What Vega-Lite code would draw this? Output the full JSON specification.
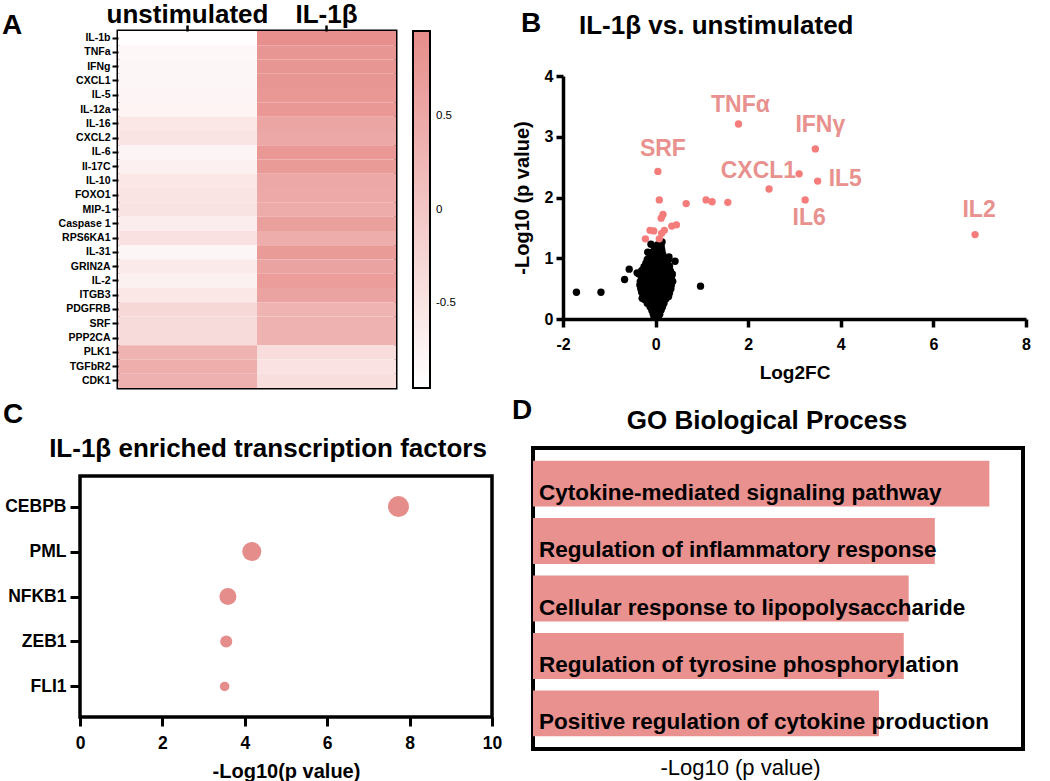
{
  "$schema": "https://vega.github.io/schema/vega-lite/v6.json",
  "background": "white",
  "padding": {"left": 0, "top": 0, "right": 0, "bottom": 0},
  "spacing": 6,
  "config": {
    "font": "Liberation Sans",
    "view": {"stroke": "black", "strokeWidth": 3},
    "axis": {"labelFont": "Liberation Sans", "labelFontWeight": "bold", "labelColor": "black", "titleFont": "Liberation Sans", "titleFontWeight": "bold", "titleColor": "black", "tickColor": "black", "domainColor": "black", "grid": false, "labelFlush": false},
    "title": {"font": "Liberation Sans", "fontWeight": "bold", "color": "black", "fontSize": 26},
    "legend": {"labelFont": "Liberation Sans", "labelColor": "black"}
  },
  "datasets": {
    "heat": [
      {"gene": "IL-1b", "cond": "unstimulated", "z": -0.92}, {"gene": "IL-1b", "cond": "IL-1β", "z": 0.92},
      {"gene": "TNFa", "cond": "unstimulated", "z": -0.82}, {"gene": "TNFa", "cond": "IL-1β", "z": 0.8},
      {"gene": "IFNg", "cond": "unstimulated", "z": -0.8}, {"gene": "IFNg", "cond": "IL-1β", "z": 0.8},
      {"gene": "CXCL1", "cond": "unstimulated", "z": -0.8}, {"gene": "CXCL1", "cond": "IL-1β", "z": 0.8},
      {"gene": "IL-5", "cond": "unstimulated", "z": -0.78}, {"gene": "IL-5", "cond": "IL-1β", "z": 0.76},
      {"gene": "IL-12a", "cond": "unstimulated", "z": -0.76}, {"gene": "IL-12a", "cond": "IL-1β", "z": 0.76},
      {"gene": "IL-16", "cond": "unstimulated", "z": -0.55}, {"gene": "IL-16", "cond": "IL-1β", "z": 0.55},
      {"gene": "CXCL2", "cond": "unstimulated", "z": -0.5}, {"gene": "CXCL2", "cond": "IL-1β", "z": 0.5},
      {"gene": "IL-6", "cond": "unstimulated", "z": -0.78}, {"gene": "IL-6", "cond": "IL-1β", "z": 0.76},
      {"gene": "Il-17C", "cond": "unstimulated", "z": -0.7}, {"gene": "Il-17C", "cond": "IL-1β", "z": 0.72},
      {"gene": "IL-10", "cond": "unstimulated", "z": -0.55}, {"gene": "IL-10", "cond": "IL-1β", "z": 0.5},
      {"gene": "FOXO1", "cond": "unstimulated", "z": -0.5}, {"gene": "FOXO1", "cond": "IL-1β", "z": 0.48},
      {"gene": "MIP-1", "cond": "unstimulated", "z": -0.48}, {"gene": "MIP-1", "cond": "IL-1β", "z": 0.45},
      {"gene": "Caspase 1", "cond": "unstimulated", "z": -0.65}, {"gene": "Caspase 1", "cond": "IL-1β", "z": 0.62},
      {"gene": "RPS6KA1", "cond": "unstimulated", "z": -0.45}, {"gene": "RPS6KA1", "cond": "IL-1β", "z": 0.42},
      {"gene": "IL-31", "cond": "unstimulated", "z": -0.8}, {"gene": "IL-31", "cond": "IL-1β", "z": 0.72},
      {"gene": "GRIN2A", "cond": "unstimulated", "z": -0.6}, {"gene": "GRIN2A", "cond": "IL-1β", "z": 0.58},
      {"gene": "IL-2", "cond": "unstimulated", "z": -0.72}, {"gene": "IL-2", "cond": "IL-1β", "z": 0.68},
      {"gene": "ITGB3", "cond": "unstimulated", "z": -0.55}, {"gene": "ITGB3", "cond": "IL-1β", "z": 0.58},
      {"gene": "PDGFRB", "cond": "unstimulated", "z": -0.3}, {"gene": "PDGFRB", "cond": "IL-1β", "z": 0.3},
      {"gene": "SRF", "cond": "unstimulated", "z": -0.35}, {"gene": "SRF", "cond": "IL-1β", "z": 0.32},
      {"gene": "PPP2CA", "cond": "unstimulated", "z": -0.35}, {"gene": "PPP2CA", "cond": "IL-1β", "z": 0.32},
      {"gene": "PLK1", "cond": "unstimulated", "z": 0.32}, {"gene": "PLK1", "cond": "IL-1β", "z": -0.38},
      {"gene": "TGFbR2", "cond": "unstimulated", "z": 0.4}, {"gene": "TGFbR2", "cond": "IL-1β", "z": -0.47},
      {"gene": "CDK1", "cond": "unstimulated", "z": 0.35}, {"gene": "CDK1", "cond": "IL-1β", "z": -0.42}
    ],
    "volcano": [
      {"fc": -0.03, "p": 0.03, "grp": "ns"}, {"fc": 0.02, "p": 0.02, "grp": "ns"}, {"fc": 0.06, "p": 0.04, "grp": "ns"},
      {"fc": -0.05, "p": 0.08, "grp": "ns"}, {"fc": 0.0, "p": 0.09, "grp": "ns"}, {"fc": 0.05, "p": 0.07, "grp": "ns"}, {"fc": 0.09, "p": 0.08, "grp": "ns"},
      {"fc": -0.08, "p": 0.14, "grp": "ns"}, {"fc": -0.02, "p": 0.15, "grp": "ns"}, {"fc": 0.03, "p": 0.13, "grp": "ns"}, {"fc": 0.08, "p": 0.14, "grp": "ns"}, {"fc": 0.12, "p": 0.15, "grp": "ns"},
      {"fc": -0.12, "p": 0.2, "grp": "ns"}, {"fc": -0.06, "p": 0.21, "grp": "ns"}, {"fc": 0.0, "p": 0.19, "grp": "ns"}, {"fc": 0.05, "p": 0.2, "grp": "ns"}, {"fc": 0.1, "p": 0.21, "grp": "ns"}, {"fc": 0.15, "p": 0.2, "grp": "ns"},
      {"fc": -0.18, "p": 0.26, "grp": "ns"}, {"fc": -0.1, "p": 0.27, "grp": "ns"}, {"fc": -0.04, "p": 0.25, "grp": "ns"}, {"fc": 0.02, "p": 0.26, "grp": "ns"}, {"fc": 0.07, "p": 0.27, "grp": "ns"}, {"fc": 0.13, "p": 0.25, "grp": "ns"}, {"fc": 0.18, "p": 0.26, "grp": "ns"},
      {"fc": -0.24, "p": 0.32, "grp": "ns"}, {"fc": -0.15, "p": 0.33, "grp": "ns"}, {"fc": -0.08, "p": 0.31, "grp": "ns"}, {"fc": -0.01, "p": 0.32, "grp": "ns"}, {"fc": 0.05, "p": 0.33, "grp": "ns"}, {"fc": 0.11, "p": 0.31, "grp": "ns"}, {"fc": 0.17, "p": 0.32, "grp": "ns"}, {"fc": 0.22, "p": 0.33, "grp": "ns"},
      {"fc": -0.27, "p": 0.38, "grp": "ns"}, {"fc": -0.19, "p": 0.39, "grp": "ns"}, {"fc": -0.11, "p": 0.37, "grp": "ns"}, {"fc": -0.04, "p": 0.38, "grp": "ns"}, {"fc": 0.03, "p": 0.39, "grp": "ns"}, {"fc": 0.09, "p": 0.37, "grp": "ns"}, {"fc": 0.16, "p": 0.38, "grp": "ns"}, {"fc": 0.24, "p": 0.39, "grp": "ns"}, {"fc": 0.28, "p": 0.37, "grp": "ns"},
      {"fc": -0.3, "p": 0.44, "grp": "ns"}, {"fc": -0.22, "p": 0.45, "grp": "ns"}, {"fc": -0.13, "p": 0.43, "grp": "ns"}, {"fc": -0.06, "p": 0.44, "grp": "ns"}, {"fc": 0.01, "p": 0.45, "grp": "ns"}, {"fc": 0.08, "p": 0.43, "grp": "ns"}, {"fc": 0.15, "p": 0.44, "grp": "ns"}, {"fc": 0.22, "p": 0.45, "grp": "ns"}, {"fc": 0.3, "p": 0.43, "grp": "ns"},
      {"fc": -0.32, "p": 0.5, "grp": "ns"}, {"fc": -0.24, "p": 0.51, "grp": "ns"}, {"fc": -0.16, "p": 0.49, "grp": "ns"}, {"fc": -0.08, "p": 0.5, "grp": "ns"}, {"fc": -0.02, "p": 0.51, "grp": "ns"}, {"fc": 0.05, "p": 0.49, "grp": "ns"}, {"fc": 0.12, "p": 0.5, "grp": "ns"}, {"fc": 0.2, "p": 0.51, "grp": "ns"}, {"fc": 0.27, "p": 0.49, "grp": "ns"}, {"fc": 0.33, "p": 0.5, "grp": "ns"},
      {"fc": -0.34, "p": 0.56, "grp": "ns"}, {"fc": -0.26, "p": 0.57, "grp": "ns"}, {"fc": -0.18, "p": 0.55, "grp": "ns"}, {"fc": -0.1, "p": 0.56, "grp": "ns"}, {"fc": -0.03, "p": 0.57, "grp": "ns"}, {"fc": 0.04, "p": 0.55, "grp": "ns"}, {"fc": 0.11, "p": 0.56, "grp": "ns"}, {"fc": 0.19, "p": 0.57, "grp": "ns"}, {"fc": 0.26, "p": 0.55, "grp": "ns"}, {"fc": 0.34, "p": 0.56, "grp": "ns"},
      {"fc": -0.33, "p": 0.62, "grp": "ns"}, {"fc": -0.25, "p": 0.63, "grp": "ns"}, {"fc": -0.17, "p": 0.61, "grp": "ns"}, {"fc": -0.09, "p": 0.62, "grp": "ns"}, {"fc": -0.02, "p": 0.63, "grp": "ns"}, {"fc": 0.06, "p": 0.61, "grp": "ns"}, {"fc": 0.13, "p": 0.62, "grp": "ns"}, {"fc": 0.21, "p": 0.63, "grp": "ns"}, {"fc": 0.29, "p": 0.61, "grp": "ns"}, {"fc": 0.37, "p": 0.62, "grp": "ns"},
      {"fc": -0.3, "p": 0.68, "grp": "ns"}, {"fc": -0.22, "p": 0.69, "grp": "ns"}, {"fc": -0.14, "p": 0.67, "grp": "ns"}, {"fc": -0.06, "p": 0.68, "grp": "ns"}, {"fc": 0.01, "p": 0.69, "grp": "ns"}, {"fc": 0.08, "p": 0.67, "grp": "ns"}, {"fc": 0.16, "p": 0.68, "grp": "ns"}, {"fc": 0.24, "p": 0.69, "grp": "ns"}, {"fc": 0.33, "p": 0.67, "grp": "ns"},
      {"fc": -0.36, "p": 0.74, "grp": "ns"}, {"fc": -0.27, "p": 0.75, "grp": "ns"}, {"fc": -0.19, "p": 0.73, "grp": "ns"}, {"fc": -0.11, "p": 0.74, "grp": "ns"}, {"fc": -0.04, "p": 0.75, "grp": "ns"}, {"fc": 0.04, "p": 0.73, "grp": "ns"}, {"fc": 0.11, "p": 0.74, "grp": "ns"}, {"fc": 0.19, "p": 0.75, "grp": "ns"}, {"fc": 0.27, "p": 0.73, "grp": "ns"}, {"fc": 0.36, "p": 0.74, "grp": "ns"},
      {"fc": -0.3, "p": 0.8, "grp": "ns"}, {"fc": -0.2, "p": 0.81, "grp": "ns"}, {"fc": -0.12, "p": 0.79, "grp": "ns"}, {"fc": -0.05, "p": 0.8, "grp": "ns"}, {"fc": 0.02, "p": 0.81, "grp": "ns"}, {"fc": 0.09, "p": 0.79, "grp": "ns"}, {"fc": 0.17, "p": 0.8, "grp": "ns"}, {"fc": 0.25, "p": 0.81, "grp": "ns"}, {"fc": 0.32, "p": 0.79, "grp": "ns"},
      {"fc": -0.25, "p": 0.86, "grp": "ns"}, {"fc": -0.16, "p": 0.87, "grp": "ns"}, {"fc": -0.08, "p": 0.85, "grp": "ns"}, {"fc": -0.01, "p": 0.86, "grp": "ns"}, {"fc": 0.06, "p": 0.87, "grp": "ns"}, {"fc": 0.14, "p": 0.85, "grp": "ns"}, {"fc": 0.22, "p": 0.86, "grp": "ns"}, {"fc": 0.3, "p": 0.87, "grp": "ns"},
      {"fc": -0.21, "p": 0.92, "grp": "ns"}, {"fc": -0.12, "p": 0.93, "grp": "ns"}, {"fc": -0.05, "p": 0.91, "grp": "ns"}, {"fc": 0.02, "p": 0.92, "grp": "ns"}, {"fc": 0.09, "p": 0.93, "grp": "ns"}, {"fc": 0.17, "p": 0.91, "grp": "ns"}, {"fc": 0.25, "p": 0.92, "grp": "ns"},
      {"fc": -0.18, "p": 0.98, "grp": "ns"}, {"fc": -0.1, "p": 0.99, "grp": "ns"}, {"fc": -0.03, "p": 0.97, "grp": "ns"}, {"fc": 0.04, "p": 0.98, "grp": "ns"}, {"fc": 0.11, "p": 0.99, "grp": "ns"}, {"fc": 0.19, "p": 0.97, "grp": "ns"}, {"fc": 0.28, "p": 0.98, "grp": "ns"},
      {"fc": -0.12, "p": 1.04, "grp": "ns"}, {"fc": -0.05, "p": 1.05, "grp": "ns"}, {"fc": 0.02, "p": 1.03, "grp": "ns"}, {"fc": 0.09, "p": 1.04, "grp": "ns"}, {"fc": 0.16, "p": 1.05, "grp": "ns"},
      {"fc": -0.08, "p": 1.1, "grp": "ns"}, {"fc": 0.0, "p": 1.11, "grp": "ns"}, {"fc": 0.07, "p": 1.09, "grp": "ns"}, {"fc": 0.14, "p": 1.1, "grp": "ns"},
      {"fc": -0.02, "p": 1.16, "grp": "ns"}, {"fc": 0.06, "p": 1.17, "grp": "ns"}, {"fc": 0.13, "p": 1.15, "grp": "ns"},
      {"fc": 0.04, "p": 1.22, "grp": "ns"}, {"fc": 0.12, "p": 1.21, "grp": "ns"},
      {"fc": -1.71, "p": 0.44, "grp": "ns"}, {"fc": -1.18, "p": 0.44, "grp": "ns"}, {"fc": -0.67, "p": 0.65, "grp": "ns"}, {"fc": -0.57, "p": 0.82, "grp": "ns"},
      {"fc": 0.97, "p": 0.54, "grp": "ns"}, {"fc": 0.42, "p": 0.95, "grp": "ns"}, {"fc": 0.29, "p": 1.02, "grp": "ns"}, {"fc": -0.1, "p": 1.23, "grp": "ns"},
      {"fc": 0.14, "p": 1.27, "grp": "ns"}, {"fc": -0.17, "p": 1.1, "grp": "ns"}, {"fc": -0.4, "p": 0.76, "grp": "ns"}, {"fc": 0.35, "p": 0.71, "grp": "ns"},
      {"fc": 0.32, "p": 0.5, "grp": "ns"}, {"fc": -0.29, "p": 0.34, "grp": "ns"}, {"fc": 0.1, "p": 1.25, "grp": "ns"},
      {"fc": 1.79, "p": 3.21, "grp": "sig", "label": "TNFα"},
      {"fc": 3.45, "p": 2.8, "grp": "sig", "label": "IFNγ"},
      {"fc": 0.05, "p": 2.43, "grp": "sig", "label": "SRF"},
      {"fc": 3.1, "p": 2.39, "grp": "sig", "label": "CXCL1"},
      {"fc": 3.5, "p": 2.27, "grp": "sig", "label": "IL5"},
      {"fc": 2.45, "p": 2.14, "grp": "sig"},
      {"fc": 3.23, "p": 1.96, "grp": "sig", "label": "IL6"},
      {"fc": 0.08, "p": 1.96, "grp": "sig"}, {"fc": 0.66, "p": 1.9, "grp": "sig"}, {"fc": 1.09, "p": 1.96, "grp": "sig"},
      {"fc": 1.22, "p": 1.93, "grp": "sig"}, {"fc": 1.56, "p": 1.92, "grp": "sig"}, {"fc": 0.16, "p": 1.72, "grp": "sig"},
      {"fc": 0.12, "p": 1.66, "grp": "sig"}, {"fc": 0.35, "p": 1.53, "grp": "sig"}, {"fc": 0.45, "p": 1.55, "grp": "sig"},
      {"fc": -0.12, "p": 1.46, "grp": "sig"}, {"fc": -0.04, "p": 1.45, "grp": "sig"}, {"fc": 0.19, "p": 1.46, "grp": "sig"},
      {"fc": 0.13, "p": 1.41, "grp": "sig"}, {"fc": -0.22, "p": 1.32, "grp": "sig"}, {"fc": 0.08, "p": 1.32, "grp": "sig"},
      {"fc": 6.9, "p": 1.39, "grp": "sig", "label": "IL2"}
    ],
    "tf": [
      {"tf": "CEBPB", "logp": 7.73, "score": 14},
      {"tf": "PML", "logp": 4.17, "score": 11.5},
      {"tf": "NFKB1", "logp": 3.59, "score": 9.2},
      {"tf": "ZEB1", "logp": 3.55, "score": 4.6},
      {"tf": "FLI1", "logp": 3.51, "score": 2.9}
    ],
    "go": [
      {"term": "Cytokine-mediated signaling pathway", "logp": 13.97},
      {"term": "Regulation of inflammatory response", "logp": 12.3},
      {"term": "Cellular response to lipopolysaccharide", "logp": 11.5},
      {"term": "Regulation of tyrosine phosphorylation", "logp": 11.35},
      {"term": "Positive regulation of cytokine production", "logp": 10.59}
    ],
    "empty": []
  },
  "vconcat": [
    {
      "bounds": "flush",
      "spacing": 37,
      "title": {"text": "B", "fontSize": 28, "anchor": "start", "frame": "group", "dx": 441, "dy": 38, "offset": 0},
      "hconcat": [
        {"width": 1, "height": 1, "view": {"stroke": null}, "data": {"name": "empty"}, "mark": "point"},
        {
          "bounds": "flush",
          "spacing": 167,
          "hconcat": [
            {
              "width": 278,
              "height": 357,
              "title": {"text": "A", "fontSize": 28, "anchor": "start", "frame": "group", "dx": -116, "dy": 38, "offset": 0},
              "data": {"name": "heat"},
              "mark": "rect",
              "encoding": {
                "x": {"field": "cond", "type": "nominal", "sort": ["unstimulated", "IL-1β"], "scale": {"paddingInner": 0, "paddingOuter": 0},
                  "axis": {"orient": "top", "title": null, "labelAngle": 0, "labelFontSize": 26, "labelBaseline": "alphabetic", "labelPadding": 2.5, "tickSize": 6, "tickWidth": 2.5, "domain": false, "labelLimit": 300, "labelOverlap": false}},
                "y": {"field": "gene", "type": "nominal",
                  "sort": ["IL-1b", "TNFa", "IFNg", "CXCL1", "IL-5", "IL-12a", "IL-16", "CXCL2", "IL-6", "Il-17C", "IL-10", "FOXO1", "MIP-1", "Caspase 1", "RPS6KA1", "IL-31", "GRIN2A", "IL-2", "ITGB3", "PDGFRB", "SRF", "PPP2CA", "PLK1", "TGFbR2", "CDK1"],
                  "scale": {"paddingInner": 0, "paddingOuter": 0},
                  "axis": {"title": null, "labelFontSize": 10.5, "tickSize": 6, "tickWidth": 2, "labelPadding": 2, "domain": false}},
                "color": {"field": "z", "type": "quantitative", "scale": {"domain": [-0.95, 0.95], "range": ["#ffffff", "#e68d8a"], "interpolate": "rgb"},
                  "legend": {"title": null, "orient": "right", "offset": 17, "direction": "vertical", "gradientLength": 357, "gradientThickness": 17, "gradientStrokeColor": "black", "gradientStrokeWidth": 2, "labelFontSize": 11.5, "labelOffset": 6, "values": [-0.5, 0, 0.5], "padding": 0,
                    "labelExpr": "datum.value === 0 ? '0' : (datum.value < 0 ? '-' + format(-datum.value, '.1f') : format(datum.value, '.1f'))"}}
              }
            },
            {
              "width": 463,
              "height": 288,
              "view": {"stroke": null},
              "title": {"text": "IL-1β vs. unstimulated", "fontSize": 26, "anchor": "start", "frame": "group", "dx": 16, "dy": 8, "offset": 0},
              "data": {"name": "volcano"},
              "encoding": {
                "x": {"field": "fc", "type": "quantitative", "scale": {"domain": [-2, 8], "nice": false, "zero": false},
                  "axis": {"title": "Log2FC", "values": [-2, 0, 2, 4, 6, 8], "labelExpr": "datum.value < 0 ? '-' + format(-datum.value, 'd') : format(datum.value, 'd')", "labelFontSize": 16, "labelPadding": 9, "tickSize": 8, "tickWidth": 3.5, "domainWidth": 3.5, "titleFontSize": 19, "titlePadding": 11}},
                "y": {"field": "p", "type": "quantitative", "scale": {"domain": [0, 4], "nice": false, "range": [288, 45]},
                  "axis": {"title": "-Log10 (p value)", "values": [0, 1, 2, 3, 4], "labelFontSize": 16, "labelPadding": 3, "tickSize": 7, "tickWidth": 3.5, "domainWidth": 3.5, "titleFontSize": 20, "titlePadding": 12}}
              },
              "layer": [
                {"mark": {"type": "circle", "size": 54, "opacity": 1},
                  "encoding": {"color": {"field": "grp", "type": "nominal", "scale": {"domain": ["ns", "sig"], "range": ["#000000", "#f47c7b"]}, "legend": null}}},
                {"transform": [{"filter": "datum.label === 'TNFα'"}], "mark": {"type": "text", "fontSize": 23, "fontWeight": "bold", "color": "#e8918e", "baseline": "middle", "align": "center", "dx": 2, "dy": -19}, "encoding": {"text": {"field": "label"}}},
                {"transform": [{"filter": "datum.label === 'IFNγ'"}], "mark": {"type": "text", "fontSize": 23, "fontWeight": "bold", "color": "#e8918e", "baseline": "middle", "align": "center", "dx": 5, "dy": -24}, "encoding": {"text": {"field": "label"}}},
                {"transform": [{"filter": "datum.label === 'SRF'"}], "mark": {"type": "text", "fontSize": 23, "fontWeight": "bold", "color": "#e8918e", "baseline": "middle", "align": "center", "dx": 5, "dy": -22}, "encoding": {"text": {"field": "label"}}},
                {"transform": [{"filter": "datum.label === 'IL2'"}], "mark": {"type": "text", "fontSize": 23, "fontWeight": "bold", "color": "#e8918e", "baseline": "middle", "align": "center", "dx": 4, "dy": -25}, "encoding": {"text": {"field": "label"}}},
                {"transform": [{"filter": "datum.label === 'CXCL1'"}], "mark": {"type": "text", "fontSize": 23, "fontWeight": "bold", "color": "#e8918e", "baseline": "middle", "align": "right", "dx": -3, "dy": -3}, "encoding": {"text": {"field": "label"}}},
                {"transform": [{"filter": "datum.label === 'IL5'"}], "mark": {"type": "text", "fontSize": 23, "fontWeight": "bold", "color": "#e8918e", "baseline": "middle", "align": "left", "dx": 11, "dy": -2}, "encoding": {"text": {"field": "label"}}},
                {"transform": [{"filter": "datum.label === 'IL6'"}], "mark": {"type": "text", "fontSize": 23, "fontWeight": "bold", "color": "#e8918e", "baseline": "middle", "align": "center", "dx": 4, "dy": 18}, "encoding": {"text": {"field": "label"}}}
              ]
            }
          ]
        }
      ]
    },
    {
      "spacing": 8,
      "hconcat": [
        {
          "title": {"text": "C", "fontSize": 28, "anchor": "start", "frame": "group", "dx": -77, "offset": 5},
          "bounds": "flush",
          "spacing": 27,
          "vconcat": [
            {"width": 1, "height": 1, "view": {"stroke": null}, "data": {"name": "empty"}, "mark": "point"},
            {
              "width": 412,
              "height": 241,
              "view": {"strokeWidth": 3.5},
              "title": {"text": "IL-1β enriched transcription factors", "fontSize": 26, "anchor": "middle", "frame": "group", "dx": -18, "offset": 14},
              "data": {"name": "tf"},
              "mark": {"type": "circle", "opacity": 1, "color": "#e58d8a"},
              "encoding": {
                "x": {"field": "logp", "type": "quantitative", "scale": {"domain": [0, 10], "nice": false},
                  "axis": {"title": "-Log10(p value)", "values": [0, 2, 4, 6, 8, 10], "labelFontSize": 17.5, "labelPadding": 8.5, "tickSize": 9, "tickWidth": 3, "domain": false, "titleFontSize": 20, "titlePadding": 9}},
                "y": {"field": "tf", "type": "nominal", "sort": ["CEBPB", "PML", "NFKB1", "ZEB1", "FLI1"], "scale": {"type": "point", "padding": 0.68},
                  "axis": {"title": null, "labelFontSize": 17.5, "labelPadding": 4, "tickSize": 10, "tickWidth": 3, "domain": false}},
                "size": {"field": "score", "type": "quantitative", "scale": {"domain": [0, 14], "range": [0, 441]}, "legend": null}
              }
            }
          ]
        },
        {
          "title": {"text": "D", "fontSize": 28, "anchor": "start", "frame": "group", "dx": -21, "dy": 19, "offset": 0},
          "vconcat": [
            {
              "width": 490,
              "height": 301,
              "view": {"strokeWidth": 4},
              "title": {"text": "GO Biological Process", "fontSize": 26, "anchor": "middle", "frame": "group", "dx": -11, "offset": 14},
              "data": {"name": "go"},
              "encoding": {
                "y": {"field": "term", "type": "nominal",
                  "sort": ["Cytokine-mediated signaling pathway", "Regulation of inflammatory response", "Cellular response to lipopolysaccharide", "Regulation of tyrosine phosphorylation", "Positive regulation of cytokine production"],
                  "scale": {"paddingInner": 0.2, "paddingOuter": 0.22}, "axis": null}
              },
              "resolve": {"axis": {"x": "independent"}},
              "layer": [
                {"mark": {"type": "bar", "color": "#e8918f"},
                  "encoding": {"x": {"field": "logp", "type": "quantitative", "scale": {"domain": [0, 15], "nice": false},
                    "axis": {"orient": "bottom", "title": "-Log10 (p value)", "labels": false, "ticks": false, "domain": false, "titleFontWeight": "normal", "titleFontSize": 22, "titleX": 207, "titleY": 25, "titleBaseline": "alphabetic", "titleAlign": "center"}}}},
                {"mark": {"type": "text", "align": "left", "baseline": "alphabetic", "dx": 6, "dy": 16, "fontSize": 22.5, "fontWeight": "bold", "color": "black"},
                  "encoding": {"x": {"datum": 0, "type": "quantitative", "axis": null}, "text": {"field": "term"}}}
              ]
            }
          ]
        }
      ]
    }
  ]
}
